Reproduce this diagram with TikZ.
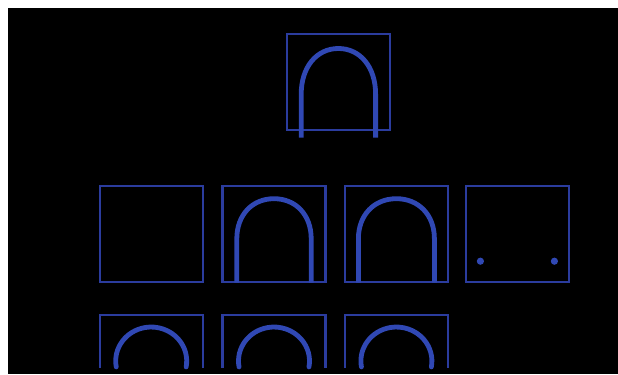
\documentclass[tikz,border=0pt]{standalone}
\usepackage{xcolor}
\usepackage{tikz}
\definecolor{tileline}{HTML}{2B3C9E}
\definecolor{tilearch}{HTML}{3048B4}

\begin{document}
\begin{tikzpicture}[
    cell/.style={
        draw=tileline,
        line width=0.055cm,
        minimum width=2.575cm,
        minimum height=2.4cm,
        inner sep=0pt
    },
    opencell/.style={
        draw=tileline,
        line width=0.055cm
    },
    arch/.style={
        draw=tilearch,
        line width=0.12cm
    }
]

% ============================================================
% Page and dark panel
% ============================================================

\useasboundingbox (0,0) rectangle (15.45,9.35);
\fill[white] (0,0) rectangle (15.45,9.35);
\fill[black] (0.2,0) rectangle (15.45,9.15);

% ============================================================
% Top tile
% ============================================================

\node[cell] (upper) at (8.46,7.30) {};

\draw[arch] ([xshift=-0.93cm,yshift=-0.165cm]upper.south)
    -- ++(0,1.09)
    .. controls +(0,0.67) and +(-0.55,0) .. ++(0.93,1.14)
    .. controls +(0.55,0) and +(0,0.67) .. ++(0.93,-1.14)
    -- ++(0,-1.09);

% ============================================================
% Middle row
% ============================================================

\node[cell] (mid1) at (3.78,3.51) {};
\node[cell] (mid2) at (6.85,3.51) {};
\node[cell] (mid3) at (9.91,3.51) {};
\node[cell] (mid4) at (12.94,3.51) {};

\draw[arch] ([xshift=-0.93cm]mid2.south)
    -- ++(0,1.1)
    .. controls +(0,0.59) and +(-0.55,0) .. ++(0.93,1.0)
    .. controls +(0.55,0) and +(0,0.59) .. ++(0.93,-1.0)
    -- ++(0,-1.1);

\draw[arch] ([xshift=-0.95cm]mid3.south)
    -- ++(0,1.1)
    .. controls +(0,0.59) and +(-0.56,0) .. ++(0.95,1.0)
    .. controls +(0.56,0) and +(0,0.59) .. ++(0.95,-1.0)
    -- ++(0,-1.1);

\fill[tilearch] ([xshift=-0.93cm,yshift=-0.69cm]mid4.center) circle (0.09);
\fill[tilearch] ([xshift=0.92cm,yshift=-0.69cm]mid4.center) circle (0.09);

% ============================================================
% Bottom row, cut by the lower edge
% ============================================================

\draw[opencell] (2.4925,0.15) |- (5.0675,1.475) -- (5.0675,0.15);
\draw[opencell] (5.5625,0.15) |- (8.1375,1.475) -- (8.1375,0.15);
\draw[opencell] (8.6225,0.15) |- (11.1975,1.475) -- (11.1975,0.15);

\draw[arch, line cap=round] (2.906,0.177)
    arc[start angle=190, end angle=-10, x radius=0.8875, y radius=0.85];
\draw[arch, line cap=round] (5.976,0.177)
    arc[start angle=190, end angle=-10, x radius=0.8875, y radius=0.85];
\draw[arch, line cap=round] (9.036,0.177)
    arc[start angle=190, end angle=-10, x radius=0.8875, y radius=0.85];

\end{tikzpicture}
\end{document}
